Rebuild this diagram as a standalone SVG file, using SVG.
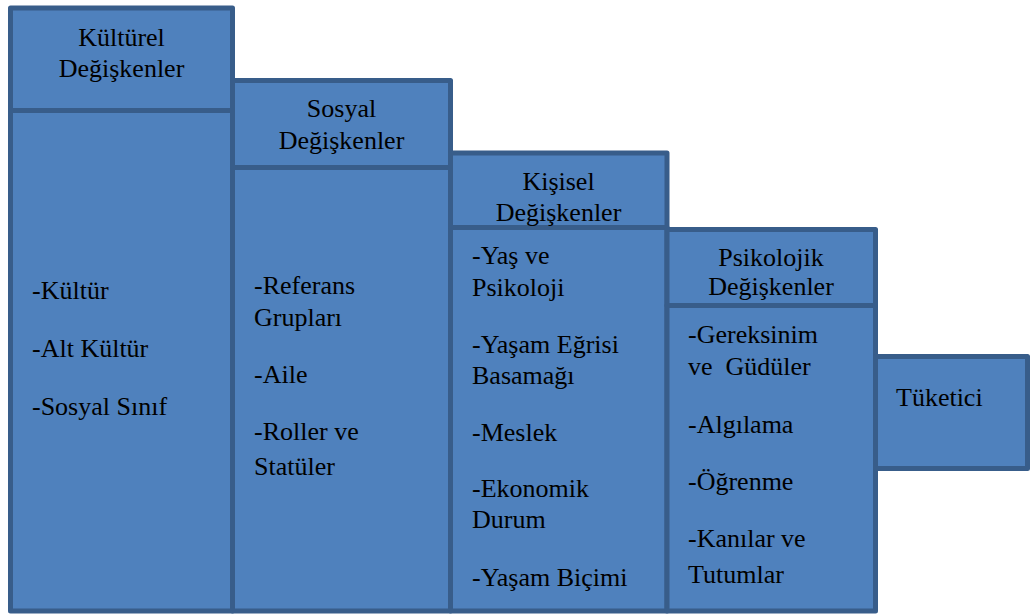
<svg xmlns="http://www.w3.org/2000/svg" width="1030" height="614" viewBox="0 0 1030 614">
<style>
.box{fill:#4F81BD;stroke:#385D8A;stroke-width:5;stroke-linejoin:round}
text{font-family:"Liberation Serif","Times New Roman",serif;font-size:26px;fill:#000}
.c{text-anchor:middle}
</style>
<rect width="1030" height="614" fill="#fff"/>
<g id="kulturel">
<rect class="box" x="10.5" y="110.5" width="222" height="500.5"/>
<rect class="box" x="10.5" y="8" width="222" height="102.5"/>
<text class="c" x="121.5" y="46">Kültürel</text>
<text class="c" x="121.5" y="77">Değişkenler</text>
<text x="32" y="299">-Kültür</text>
<text x="32" y="357">-Alt Kültür</text>
<text x="32" y="415">-Sosyal Sınıf</text>
</g>
<g id="sosyal">
<rect class="box" x="232.5" y="167.5" width="218" height="443.5"/>
<rect class="box" x="232.5" y="80.5" width="218" height="87"/>
<text class="c" x="341.5" y="117">Sosyal</text>
<text class="c" x="341.5" y="149">Değişkenler</text>
<text x="254" y="294">-Referans</text>
<text x="254" y="326">Grupları</text>
<text x="254" y="383">-Aile</text>
<text x="254" y="440">-Roller ve</text>
<text x="254" y="475">Statüler</text>
</g>
<g id="kisisel">
<rect class="box" x="450.5" y="227.5" width="216.5" height="383.5"/>
<rect class="box" x="450.5" y="153" width="216.5" height="74.5"/>
<text class="c" x="558.5" y="190">Kişisel</text>
<text class="c" x="558.5" y="221">Değişkenler</text>
<text x="472" y="264">-Yaş ve</text>
<text x="472" y="296">Psikoloji</text>
<text x="472" y="353">-Yaşam Eğrisi</text>
<text x="472" y="384">Basamağı</text>
<text x="472" y="441">-Meslek</text>
<text x="472" y="497">-Ekonomik</text>
<text x="472" y="528">Durum</text>
<text x="472" y="586">-Yaşam Biçimi</text>
</g>
<g id="psikolojik">
<rect class="box" x="667" y="305.5" width="208.5" height="305.5"/>
<rect class="box" x="667" y="229.5" width="208.5" height="76"/>
<text class="c" x="771" y="266">Psikolojik</text>
<text class="c" x="771" y="295">Değişkenler</text>
<text x="688" y="343">-Gereksinim</text>
<text x="688" y="375" style="white-space:pre">ve  Güdüler</text>
<text x="688" y="433">-Algılama</text>
<text x="688" y="490">-Öğrenme</text>
<text x="688" y="547">-Kanılar ve</text>
<text x="688" y="583">Tutumlar</text>
</g>
<g id="tuketici">
<rect class="box" x="875.5" y="356.5" width="152" height="112"/>
<text x="896" y="406">Tüketici</text>
</g>
<g id="connectors"/>
</svg>
